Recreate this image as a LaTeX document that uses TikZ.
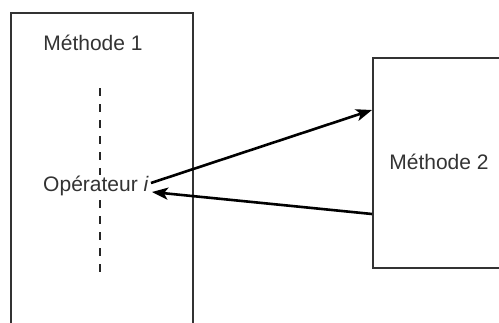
\documentclass[tikz,border=0pt]{standalone}
\usepackage{fontspec}
\setmainfont{Liberation Sans}
\usetikzlibrary{arrows.meta,calc}
\definecolor{ink}{HTML}{333333}
\begin{document}
\begin{tikzpicture}[x=1pt,y=-1pt,
  box/.style={draw=ink, line width=1.5pt, inner sep=0pt, anchor=north west},
  lbl/.style={text=ink, font=\fontsize{21}{25}\selectfont, inner sep=1pt},
  flow/.style={line width=2.6pt, -{Stealth[length=16pt,width=12pt,inset=4pt]}},
  dots/.style={draw=black!85, line width=2.8pt, dash pattern=on 8pt off 8pt}]
\useasboundingbox (0,0) rectangle (499,322);
\clip (0,0) rectangle (499,322);
% the two method boxes (both run past the page edge)
\node[box, minimum width=182pt, minimum height=330pt] (m1box) at (10,12) {};
\node[box, minimum width=150pt, minimum height=210pt] (m2box) at (372,57) {};
\node[lbl] (t1) at (93,43) {Méthode 1};
\node[lbl] (t2) at (439,162) {Méthode 2};
% vertical dashed line with the operator label sitting on it
\coordinate (dtop) at (100,88);
\coordinate (dbot) at (100,273);
\draw[dots] (dtop) -- (dbot);
\node[lbl, fill=white] (op) at (96,186) {Opérateur \textit{i}};
% exchanges between operator and second method
\coordinate (in1) at (m2box.north west |- 0,110);
\coordinate (out2) at (m2box.north west |- 0,214);
\draw[flow] ($(op.east)+(1,-3)$) -- (in1);
\draw[flow] (out2) -- ($(op.east)+(2,6)$);
\end{tikzpicture}
\end{document}
